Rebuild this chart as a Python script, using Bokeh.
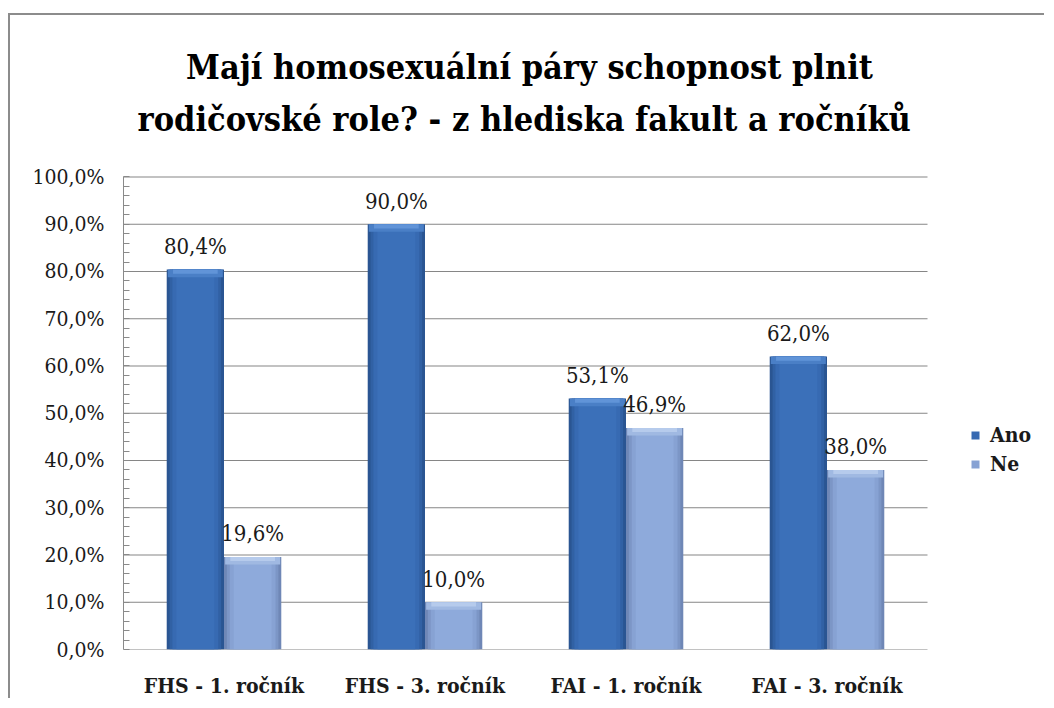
from bokeh.plotting import figure
from bokeh.models import (ColumnDataSource, Legend, LegendItem, Label,
                          SingleIntervalTicker, FixedTicker, Range1d)
from bokeh.transform import dodge
from bokeh.core.properties import value
from bokeh.embed import file_html
from bokeh.resources import INLINE

# ---- data ----
categories = ["FHS - 1. ročník", "FHS - 3. ročník", "FAI - 1. ročník", "FAI - 3. ročník"]
ano = [80.4, 90.0, 53.1, 62.0]
ne = [19.6, 10.0, 46.9, 38.0]
series = ["Ano", "Ne"]
y_ticks = list(range(0, 101, 10))
title_lines = ["Mají homosexuální páry schopnost plnit",
               "rodičovské role?  - z hlediska fakult a ročníků"]


def pct(v):
    return f"{v:.1f}%".replace(".", ",")


x_pos = [i + 0.5 for i in range(len(categories))]
BEVEL = 1.6  # bevel depth in value units (style)
src = ColumnDataSource(dict(
    x=x_pos, ano=ano, ne=ne,
    ano_lbl=[pct(v) for v in ano], ne_lbl=[pct(v) for v in ne],
    ano_bev=[v - BEVEL for v in ano], ne_bev=[v - BEVEL for v in ne],
    ano_bev2=[v - BEVEL * 0.55 for v in ano], ne_bev2=[v - BEVEL * 0.55 for v in ne],
))
grid_src = ColumnDataSource(dict(y=y_ticks, x0=[0] * len(y_ticks),
                                 x1=[len(categories)] * len(y_ticks)))

SERIF = "'DejaVu Serif Condensed', 'DejaVu Serif'"

# ---- layout (pixels) ----
W, H = 1036, 685
L, B = 113, 49
TOP_GAP = 162          # px from canvas top to the 100 % line
CAT_PX = 201           # px per category
x_end = (W - L) / CAT_PX
frame_h = H - B
y_end = 100 * frame_h / (frame_h - TOP_GAP)

p = figure(x_range=Range1d(0, x_end), y_range=Range1d(0, y_end),
           width=W, height=H, output_backend="svg", toolbar_location=None,
           min_border_left=L, min_border_right=0, min_border_top=0,
           min_border_bottom=B)
p.styles = {"border-top": "2px solid #8c8c8c", "border-left": "2px solid #8c8c8c",
            "margin-top": "13px", "margin-left": "8px"}
p.outline_line_color = None
p.background_fill_color = "white"
p.border_fill_color = "white"
p.xgrid.grid_line_color = None
p.ygrid.grid_line_color = None

# horizontal gridlines over the category area
p.segment(x0="x0", x1="x1", y0="y", y1="y", source=grid_src,
          line_color="#868686", line_width=1.2)

BW = 0.285
OFF = BW / 2

styles = {
    "Ano": dict(field="ano", bev="ano_bev", bev2="ano_bev2", off=-OFF,
                layers=["#2A5592", "#3161A4", "#376AB2", "#3B70B9"],
                bevel=["#4A7FC6", "#6194D8"]),
    "Ne": dict(field="ne", bev="ne_bev", bev2="ne_bev2", off=OFF,
               layers=["#6F87B6", "#7C96C6", "#87A2D3", "#8EAADB"],
               bevel=["#A0B9E2", "#B6CBEC"]),
}

legend_renderers = {}
for name in series:
    s = styles[name]
    xs = dodge("x", s["off"])
    widths = [BW, BW * 0.9, BW * 0.8, BW * 0.66]
    for i, (w, c) in enumerate(zip(widths, s["layers"])):
        r = p.vbar(x=xs, top=s["field"], bottom=0, width=w, source=src,
                   fill_color=c, line_color=None)
        if i == 2:
            legend_renderers[name] = r
    p.vbar(x=xs, top=s["field"], bottom=s["bev"], width=BW * 0.96, source=src,
           fill_color=s["bevel"][0], line_color=None)
    p.vbar(x=xs, top=s["field"], bottom=s["bev2"], width=BW * 0.78, source=src,
           fill_color=s["bevel"][1], line_color=None)
    p.text(x=xs, y=s["field"], text=s["field"] + "_lbl", source=src,
           text_align="center", text_baseline="alphabetic", y_offset=-23,
           text_font=value(SERIF), text_font_size="22px", text_color="#1a1a1a")

# y axis (only spans 0-100 %)
p.yaxis.bounds = (0, 100)
p.yaxis.ticker = SingleIntervalTicker(interval=10, num_minor_ticks=5)
p.yaxis.major_label_overrides = {t: pct(t) for t in y_ticks}
p.yaxis.major_label_text_font = SERIF
p.yaxis.major_label_text_font_size = "21px"
p.yaxis.major_label_text_color = "#1a1a1a"
p.yaxis.major_label_standoff = 19
p.yaxis.major_tick_in = 0
p.yaxis.major_tick_out = 0
p.yaxis.minor_tick_in = 6
p.yaxis.minor_tick_out = 0
p.yaxis.minor_tick_line_color = "#8a8a8a"
p.yaxis.axis_line_color = "#8a8a8a"

# x axis (category labels)
p.xaxis.ticker = FixedTicker(ticks=x_pos)
p.xaxis.major_label_overrides = {xv: c for xv, c in zip(x_pos, categories)}
p.xaxis.major_label_text_font = SERIF
p.xaxis.major_label_text_font_style = "bold"
p.xaxis.major_label_text_font_size = "21px"
p.xaxis.major_label_text_color = "#1a1a1a"
p.xaxis.major_label_standoff = 17
p.xaxis.major_tick_line_color = None
p.xaxis.minor_tick_line_color = None
p.xaxis.axis_line_color = None

# title: two centred lines above the plot area
for line, base in zip(title_lines, [583, 531]):
    p.add_layout(Label(x=406, y=base, x_units="screen", y_units="screen",
                       text=line, text_align="center", text_baseline="alphabetic",
                       text_font=SERIF, text_font_style="bold",
                       text_font_size="34px", text_color="#000000"))

# legend
legend = Legend(items=[LegendItem(label=n, renderers=[legend_renderers[n]]) for n in series],
                location=(847, 173), glyph_width=10, glyph_height=10,
                label_text_font=SERIF, label_text_font_style="bold",
                label_text_font_size="21px", label_text_color="#1a1a1a",
                label_height=23, border_line_color=None, background_fill_alpha=0,
                spacing=4, padding=0, margin=0, label_standoff=10)
p.add_layout(legend, "center")

open("out.html", "w").write(file_html(p, INLINE))
